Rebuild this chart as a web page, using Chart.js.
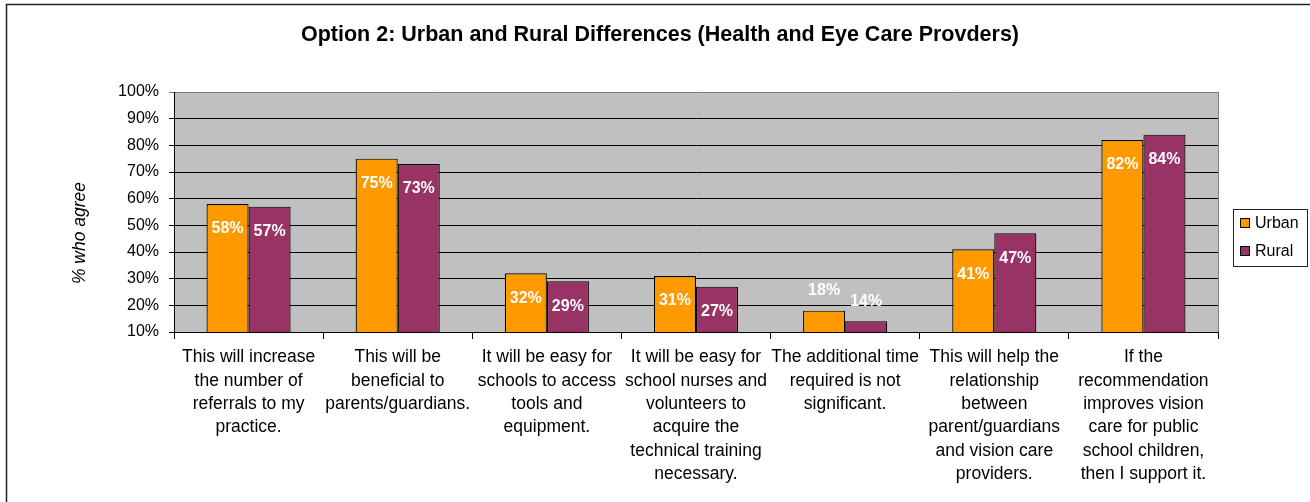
<!DOCTYPE html>
<html>
<head>
<meta charset="utf-8">
<title>Option 2: Urban and Rural Differences</title>
<script src="https://cdn.jsdelivr.net/npm/chart.js@4.4.0/dist/chart.umd.min.js"></script>
<style>
  body { margin: 0; background: #fff; }
  #wrap { width: 1310px; height: 502px; position: relative; }
</style>
</head>
<body>
<div id="wrap"><canvas id="agreeChart"></canvas></div>
<script>
const categories = [
    ['This will increase', 'the number of', 'referrals to my', 'practice.'],
    ['This will be', 'beneficial to', 'parents/guardians.'],
    ['It will be easy for', 'schools to access', 'tools and', 'equipment.'],
    ['It will be easy for', 'school nurses and', 'volunteers to', 'acquire the', 'technical training', 'necessary.'],
    ['The additional time', 'required is not', 'significant.'],
    ['This will help the', 'relationship', 'between', 'parent/guardians', 'and vision care', 'providers.'],
    ['If the', 'recommendation', 'improves vision', 'care for public', 'school children,', 'then I support it.']
];
const urban = [58, 75, 32, 31, 18, 41, 82];
const rural = [57, 73, 29, 27, 14, 47, 84];
const seriesNames = ['Urban', 'Rural'];
const chartTitle = 'Option 2: Urban and Rural Differences (Health and Eye Care Provders)';
const yTitle = '% who agree';

const FONT = 'Liberation Sans, Arial, sans-serif';

// frame, title, grey plot background, value labels, y title and boxed legend
const excelLook = {
    id: 'excelLook',
    beforeDraw(chart) {
        const ctx = chart.ctx;
        const a = chart.chartArea;
        ctx.save();
        ctx.fillStyle = '#fff';
        ctx.fillRect(0, 0, chart.width, chart.height);
        ctx.strokeStyle = '#222';
        ctx.lineWidth = 1.5;
        ctx.strokeRect(6.5, 4.5, chart.width + 20, chart.height + 20);
        ctx.fillStyle = '#c0c0c0';
        ctx.fillRect(a.left, a.top, a.right - a.left, a.bottom - a.top);

        ctx.fillStyle = '#000';
        ctx.font = 'bold 21.5px ' + FONT;
        ctx.textAlign = 'center';
        ctx.textBaseline = 'middle';
        ctx.fillText(chartTitle, 660, 35);
        ctx.restore();
    },
    afterDatasetsDraw(chart) {
        const ctx = chart.ctx;
        const a = chart.chartArea;
        ctx.save();
        // plot area border on the right
        ctx.strokeStyle = '#808080';
        ctx.lineWidth = 1;
        ctx.beginPath();
        ctx.moveTo(a.right + 0.5, a.top);
        ctx.lineTo(a.right + 0.5, a.bottom);
        ctx.stroke();

        ctx.font = 'bold 16px ' + FONT;
        ctx.fillStyle = '#fff';
        ctx.textAlign = 'center';
        ctx.textBaseline = 'middle';
        chart.data.datasets.forEach((ds, i) => {
            chart.getDatasetMeta(i).data.forEach((bar, j) => {
                const v = ds.data[j];
                const y = v >= 25 ? bar.y + 25 : bar.y - 20;
                ctx.fillText(v + '%', bar.x, y);
            });
        });

        // y axis title
        ctx.fillStyle = '#000';
        ctx.font = 'italic 17.5px ' + FONT;
        ctx.translate(80, 233);
        ctx.rotate(-Math.PI / 2);
        ctx.fillText(yTitle, 0, 0);
        ctx.restore();
    },
    afterDraw(chart) {
        const ctx = chart.ctx;
        const lx = 1233, ly = 209, lw = 74, lh = 57;
        ctx.save();
        ctx.fillStyle = '#fff';
        ctx.fillRect(lx, ly, lw, lh);
        ctx.strokeStyle = '#222';
        ctx.lineWidth = 1;
        ctx.strokeRect(lx + 0.5, ly + 0.5, lw, lh);
        ctx.font = '16px ' + FONT;
        ctx.textBaseline = 'middle';
        chart.data.datasets.forEach((ds, i) => {
            const cy = ly + 14 + i * 28;
            ctx.fillStyle = ds.backgroundColor;
            ctx.fillRect(lx + 7.5, cy - 4.5, 9, 9);
            ctx.strokeStyle = '#000';
            ctx.strokeRect(lx + 7.5, cy - 4.5, 9, 9);
            ctx.fillStyle = '#000';
            ctx.fillText(ds.label, lx + 22, cy + 1);
        });
        ctx.restore();
    }
};

new Chart(document.getElementById('agreeChart'), {
    type: 'bar',
    data: {
        labels: categories,
        datasets: [{
            label: seriesNames[0],
            data: urban,
            backgroundColor: '#ff9900',
            borderColor: '#000',
            borderWidth: 1.2
        }, {
            label: seriesNames[1],
            data: rural,
            backgroundColor: '#993366',
            borderColor: '#000',
            borderWidth: 1.2
        }]
    },
    options: {
        responsive: true,
        maintainAspectRatio: false,
        animation: false,
        categoryPercentage: 0.564,
        barPercentage: 1,
        layout: { padding: { left: 0, right: 92, top: 92, bottom: 0 } },
        plugins: {
            legend: { display: false },
            tooltip: { enabled: false },
            title: { display: false }
        },
        scales: {
            x: {
                offset: true,
                grid: {
                    offset: true,
                    drawOnChartArea: false,
                    color: '#000',
                    tickLength: 7
                },
                border: { color: '#000' },
                ticks: {
                    color: '#000',
                    autoSkip: false,
                    maxRotation: 0,
                    padding: 7,
                    font: { family: FONT, size: 17.5, lineHeight: 1.33 }
                },
                afterFit(scale) { scale.height = 170; }
            },
            y: {
                min: 10,
                max: 100,
                ticks: {
                    stepSize: 10,
                    color: '#000',
                    padding: 10,
                    font: { family: FONT, size: 16 },
                    callback: v => v + '%'
                },
                grid: {
                    color: c => (c.tick && c.tick.value === 100) ? '#808080' : '#000',
                    tickLength: 5
                },
                border: { color: '#000' },
                afterFit(scale) { scale.width = 174; }
            }
        }
    },
    plugins: [excelLook]
});
</script>
</body>
</html>
